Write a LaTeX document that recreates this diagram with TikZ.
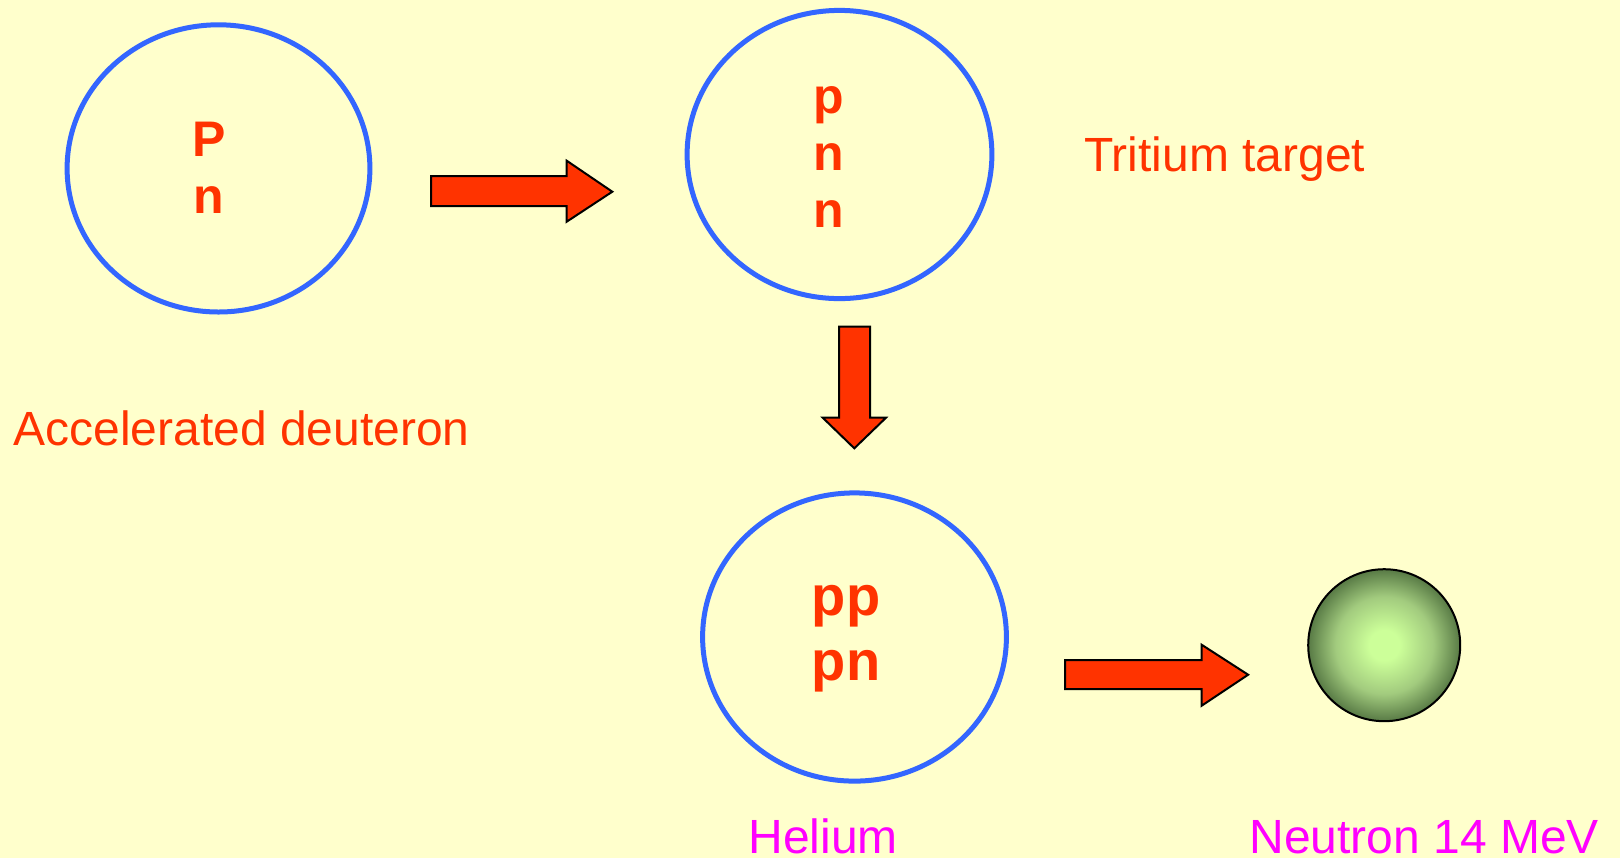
\documentclass[tikz,border=0pt]{standalone}
\usepackage{fontspec}
\setmainfont{Liberation Sans}
\usetikzlibrary{shapes.geometric}
\definecolor{bg}{HTML}{FFFFCC}
\definecolor{ringblue}{HTML}{3366FF}
\definecolor{nred}{HTML}{FF3300}
\definecolor{mag}{HTML}{FF00FF}
\definecolor{sphin}{HTML}{CCFF99}
\definecolor{sphmid}{HTML}{A2CB7E}
\definecolor{sphout}{HTML}{587A45}
\pgfdeclareradialshading{sphereshade}{\pgfpoint{0bp}{0bp}}{color(0bp)=(sphin); color(5bp)=(sphin); color(16bp)=(sphmid); color(25bp)=(sphout); color(50bp)=(sphout)}
\begin{document}
\begin{tikzpicture}[x=0.5pt,y=-0.5pt,
  nucleus/.style={draw=ringblue, line width=2.5pt, ellipse, inner sep=0pt},
  blockarrow/.style={fill=nred, draw=black, line width=1pt, line join=miter},
  particle/.style={font=\fontsize{25}{30}\selectfont\bfseries, text=nred, inner sep=0pt, anchor=base},
  bigparticle/.style={font=\fontsize{28}{33}\selectfont\bfseries, text=nred, inner sep=0pt, anchor=base},
  redlabel/.style={font=\fontsize{24}{29}\selectfont, text=nred, inner sep=0pt, anchor=base west},
  maglabel/.style={font=\fontsize{24}{29}\selectfont, text=mag, inner sep=0pt, anchor=base west}]
\fill[bg] (0,0) rectangle (1620,858);
\useasboundingbox (0,0) rectangle (1620,858);

% nuclei
\node[nucleus, minimum width=151.4pt, minimum height=143.6pt] (deut) at (218.5,168.4) {};
\node[nucleus, minimum width=152.4pt, minimum height=144.1pt] (trit) at (839.5,154.5) {};
\node[nucleus, minimum width=151.9pt, minimum height=144.1pt] (hel) at (854.5,637) {};

% neutron sphere
\node[circle, draw=black, line width=1pt, minimum size=76pt, inner sep=0pt,
      shading=sphereshade] (neut) at (1384.2,645.2) {};

% particles
\node[particle] (d1) at (209,156.7) {P};
\node[particle] (d2) at (209,213.3) {n};
\node[particle] (t1) at (828.5,113.3) {p};
\node[particle] (t2) at (828.5,170) {n};
\node[particle] (t3) at (828.5,227.3) {n};
\node[bigparticle] (h1) at (846,615) {pp};
\node[bigparticle] (h2) at (846,680) {pn};

% block arrows
\draw[blockarrow] (431,176) -- (566.7,176) -- (566.7,160.7) -- (612.3,191.7) -- (566.7,221.7) -- (566.7,206) -- (431,206) -- cycle;
\draw[blockarrow] (839,326.7) -- (870,326.7) -- (870,417.7) -- (886,417.7) -- (854.3,448.3) -- (822.7,417.7) -- (839,417.7) -- cycle;
\draw[blockarrow] (1065.2,660.2) -- (1201.6,660.2) -- (1201.6,644.7) -- (1248.1,674.7) -- (1201.6,705.7) -- (1201.6,689.2) -- (1065.2,689.2) -- cycle;

% labels
\node[redlabel] (lab1) at (13,445) {Accelerated deuteron};
\node[redlabel] (lab2) at (1084,171.7) {Tritium target};
\node[maglabel] (lab3) at (748,853) {Helium};
\node[maglabel] (lab4) at (1249,853) {Neutron 14 MeV};
\end{tikzpicture}
\end{document}
